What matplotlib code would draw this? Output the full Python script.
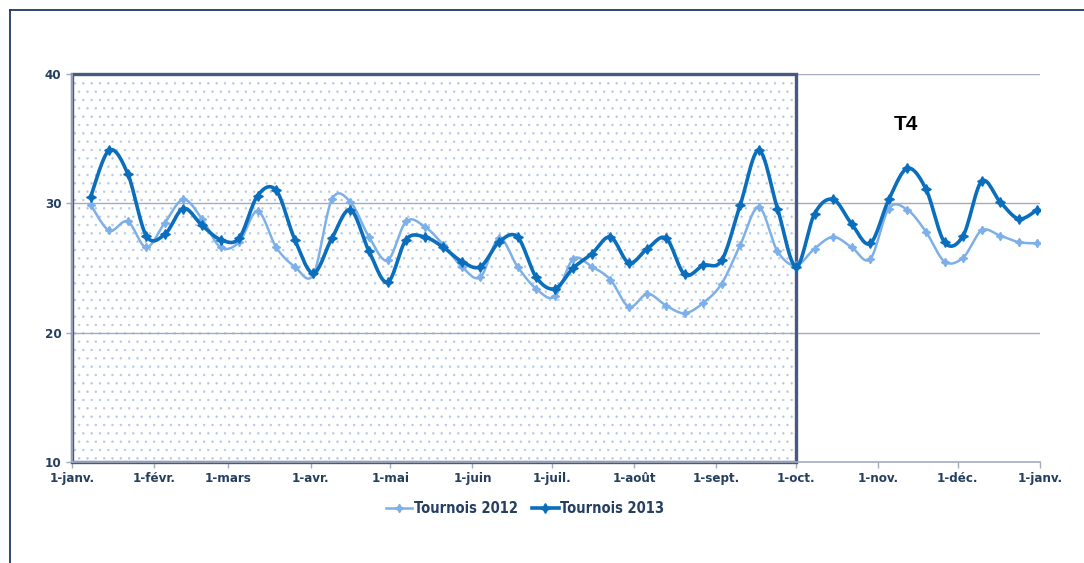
import matplotlib
matplotlib.use('Agg')
import matplotlib.pyplot as plt
import matplotlib.dates as mdates
from matplotlib.patches import Rectangle
from matplotlib.lines import Line2D
import numpy as np
import pandas as pd

# weekly points, 2012 vs 2013
weeks = pd.date_range('2013-01-08', periods=52, freq='7D')
tournois_2012 = [29.9, 27.9, 28.6, 26.6, 28.5, 30.3, 28.8, 26.6, 27.0, 29.4,
                 26.6, 25.1, 24.5, 30.3, 30.1, 27.4, 25.6, 28.6, 28.2, 26.8,
                 25.1, 24.3, 27.3, 25.1, 23.4, 22.8, 25.7, 25.1, 24.1, 22.0,
                 23.0, 22.1, 21.5, 22.3, 23.8, 26.8, 29.7, 26.3, 25.2, 26.5,
                 27.4, 26.6, 25.7, 29.6, 29.5, 27.8, 25.5, 25.8, 27.9, 27.5,
                 27.0, 26.9]
tournois_2013 = [30.5, 34.1, 32.3, 27.5, 27.6, 29.6, 28.3, 27.2, 27.3, 30.6,
                 31.0, 27.2, 24.6, 27.3, 29.5, 26.3, 23.9, 27.2, 27.4, 26.6,
                 25.5, 25.1, 27.0, 27.4, 24.3, 23.4, 25.0, 26.1, 27.4, 25.4,
                 26.5, 27.3, 24.5, 25.2, 25.6, 29.9, 34.1, 29.6, 25.1, 29.2,
                 30.3, 28.4, 26.9, 30.3, 32.7, 31.1, 27.0, 27.5, 31.7, 30.1,
                 28.8, 29.5]
month_ticks = pd.date_range('2013-01-01', '2014-01-01', freq='MS')
month_labels = ['1-janv.', '1-févr.', '1-mars', '1-avr.', '1-mai', '1-juin',
                '1-juil.', '1-août', '1-sept.', '1-oct.', '1-nov.', '1-déc.',
                '1-janv.']
y_ticks = [10, 20, 30, 40]

C_2012 = '#7DB0E8'
C_2013 = '#0A6EBD'
TXT = '#243F60'
GRID = '#A4ABBE'


def smooth(x, y, n=16):
    # Excel-like smoothed line (bezier, tangents from neighbours)
    x = np.asarray(x, float)
    y = np.asarray(y, float)
    pts = np.column_stack([x, y])
    out = []
    t = np.linspace(0, 1, n)[:, None]
    for i in range(len(pts) - 1):
        p0 = pts[i - 1] if i > 0 else pts[i]
        p1 = pts[i]
        p2 = pts[i + 1]
        p3 = pts[i + 2] if i + 2 < len(pts) else pts[i + 1]
        c1 = p1 + (p2 - p0) / 6
        c2 = p2 - (p3 - p1) / 6
        seg = ((1 - t) ** 3) * p1 + 3 * ((1 - t) ** 2) * t * c1 \
            + 3 * (1 - t) * t ** 2 * c2 + t ** 3 * p2
        out.append(seg if i == 0 else seg[1:])
    out = np.vstack(out)
    return out[:, 0], out[:, 1]


plt.rcParams['font.family'] = ['DejaVu Sans']
plt.rcParams['font.stretch'] = 'condensed'

fig = plt.figure(figsize=(10.84, 5.63), dpi=100)
ax = fig.add_axes([72 / 1084, 1 - 462 / 563, 968 / 1084, 388 / 563])

xd = mdates.date2num(weeks)
x0 = mdates.date2num(pd.Timestamp('2013-01-01'))
x1 = mdates.date2num(pd.Timestamp('2014-01-01'))
xoct = mdates.date2num(pd.Timestamp('2013-10-01'))

# dotted shaded zone Jan -> Oct
plt.rcParams['hatch.linewidth'] = 0.5
ax.add_patch(Rectangle((x0, 10), xoct - x0, 30, facecolor='white',
                       edgecolor='#B3C9E8', lw=0, hatch='..', zorder=0.5))

for v in [20, 30, 40]:
    ax.axhline(v, color=GRID, lw=1.0, zorder=1)

ax.add_patch(Rectangle((x0, 10), xoct - x0, 30, facecolor='none',
                       edgecolor='#46597E', lw=2.4, zorder=2, clip_on=False))

sx, sy = smooth(xd, tournois_2012)
ax.plot(sx, sy, color=C_2012, lw=1.8, zorder=3)
ax.plot(xd, tournois_2012, ls='none', marker=(4, 1, 0), ms=6, color=C_2012, zorder=3)
sx, sy = smooth(xd, tournois_2013)
ax.plot(sx, sy, color=C_2013, lw=2.6, zorder=4)
ax.plot(xd, tournois_2013, ls='none', marker=(4, 1, 0), ms=7, color=C_2013, zorder=4)

ax.set_xlim(x0, x1)
ax.set_ylim(10, 40)
ax.set_xticks(mdates.date2num(month_ticks))
ax.set_xticklabels(month_labels)
ax.set_yticks(y_ticks)
ax.tick_params(axis='both', colors=GRID, labelcolor=TXT, labelsize=9.5, length=4, width=1)
for lab in ax.get_xticklabels() + ax.get_yticklabels():
    lab.set_fontweight('bold')
    lab.set_fontstretch('condensed')

for s in ['top', 'right']:
    ax.spines[s].set_visible(False)
for s in ['left', 'bottom']:
    ax.spines[s].set_color(GRID)
    ax.spines[s].set_linewidth(1.2)

ax.text(mdates.date2num(pd.Timestamp('2013-11-07')), 35.7, 'T4', fontsize=15,
        fontweight='bold', family=['Liberation Sans', 'DejaVu Sans'], color='black')

handles = [Line2D([], [], color=C_2012, lw=1.8, marker=(4, 1, 0), ms=6),
           Line2D([], [], color=C_2013, lw=2.6, marker=(4, 1, 0), ms=7)]
leg = ax.legend(handles, ['Tournois 2012', 'Tournois 2013'], loc='center',
                bbox_to_anchor=(0.468, -0.119), ncol=2, frameon=False,
                handlelength=1.8, handletextpad=0.1, columnspacing=1.0,
                prop={'size': 10.5, 'weight': 'bold', 'stretch': 'condensed'})
for t in leg.get_texts():
    t.set_color(TXT)

# outer frame
fig.add_artist(Line2D([10 / 1084, 10 / 1084], [0, 1 - 10 / 563], color='#1F3864', lw=1.3))
fig.add_artist(Line2D([10 / 1084, 1], [1 - 10 / 563, 1 - 10 / 563], color='#1F3864', lw=1.3))

fig.savefig('out.png', dpi=100)
